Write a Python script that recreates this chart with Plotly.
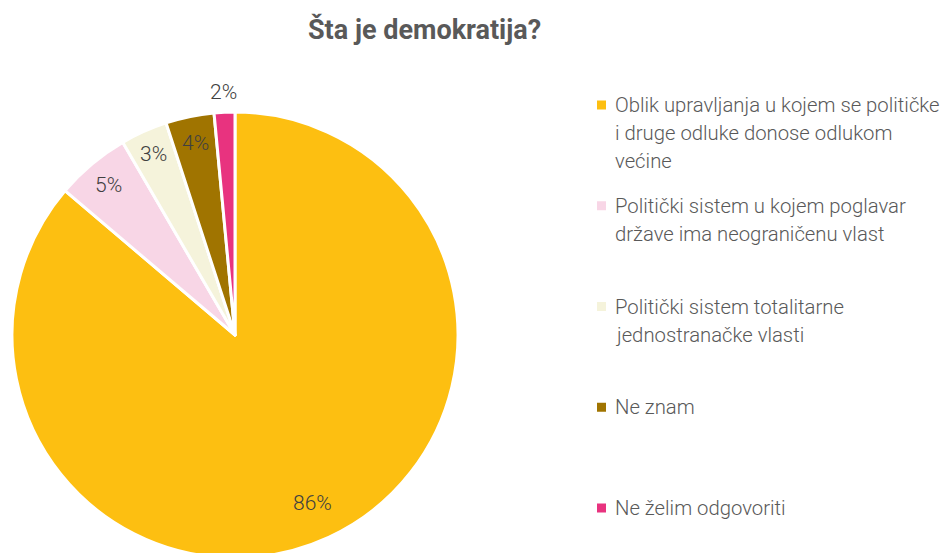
import math
import plotly.graph_objects as go

categories = [
    "Oblik upravljanja u kojem se političke<br>i druge odluke donose odlukom<br>većine",
    "Politički sistem u kojem poglavar<br>države ima neograničenu vlast",
    "Politički sistem totalitarne<br>jednostranačke vlasti",
    "Ne znam",
    "Ne želim odgovoriti",
]
values = [86.2, 5.4, 3.4, 3.5, 1.5]
value_labels = ["86%", "5%", "3%", "4%", "2%"]
colors = ["#FDBF11", "#F8D6E6", "#F5F3DB", "#A07400", "#E8337F"]

W, H = 947, 558
FONT = "Roboto, sans-serif"

# pie placement (pixels)
px0, px1 = 12, 458
py_bottom_h = 446
dom_x = [px0 / W, px1 / W]
dom_y = [0, py_bottom_h / H]
cx = (px0 + px1) / 2
R = (px1 - px0) / 2
cy = H - py_bottom_h / 2

fig = go.Figure()
fig.add_trace(go.Pie(
    labels=[c.replace("<br>", " ") for c in categories],
    values=values,
    sort=False,
    direction="clockwise",
    rotation=0,
    marker=dict(colors=colors, line=dict(color="white", width=3)),
    textinfo="none",
    hoverinfo="label+percent",
    domain=dict(x=dom_x, y=dom_y),
    showlegend=False,
))

annotations = []
# percentage labels placed along each slice's mid-angle
label_radius = [0.83, 0.88, 0.89, 0.88, 1.09]
total = sum(values)
cum = 0.0
for v, lab, f in zip(values, value_labels, label_radius):
    mid = (cum + v / 2) / total * 2 * math.pi
    cum += v
    x = cx + f * R * math.sin(mid)
    y = cy - f * R * math.cos(mid)
    annotations.append(dict(
        x=x / W, y=(H - y) / H, xref="paper", yref="paper",
        text=lab, showarrow=False, xanchor="center", yanchor="middle",
        font=dict(family=FONT, size=21, color="#404040", weight=300),
    ))

# title
annotations.append(dict(
    x=424.5 / W, y=(H - 30) / H, xref="paper", yref="paper",
    text="<b>Šta je demokratija?</b>", showarrow=False,
    xanchor="center", yanchor="middle",
    font=dict(family="Roboto, sans-serif", size=27, color="#595959"),
))

# custom legend
shapes = []
leg_x_text = 613
leg_first_center = 105
leg_step = 100.75
line_h = 28
sq = 9
for i, (cat, col) in enumerate(zip(categories, colors)):
    yc = leg_first_center + i * leg_step
    for j, line in enumerate(cat.split("<br>")):
        annotations.append(dict(
            x=leg_x_text / W, y=(H - (yc + j * line_h)) / H, xref="paper", yref="paper",
            text=line, showarrow=False, xanchor="left", yanchor="middle", align="left",
            font=dict(family=FONT, size=20.3, color="#595959", weight=300),
        ))
    shapes.append(dict(
        type="rect", xref="paper", yref="paper",
        x0=597 / W, x1=(597 + sq) / W,
        y0=(H - (yc + sq / 2)) / H, y1=(H - (yc - sq / 2)) / H,
        fillcolor=col, line=dict(width=0),
    ))

fig.update_layout(
    width=W, height=H,
    margin=dict(l=0, r=0, t=0, b=0),
    paper_bgcolor="white",
    plot_bgcolor="white",
    annotations=annotations,
    shapes=shapes,
)

fig.write_html(
    "out.html",
    config={"displayModeBar": False},
    post_script="document.body.style.margin='0';document.body.style.overflow='hidden';",
)
